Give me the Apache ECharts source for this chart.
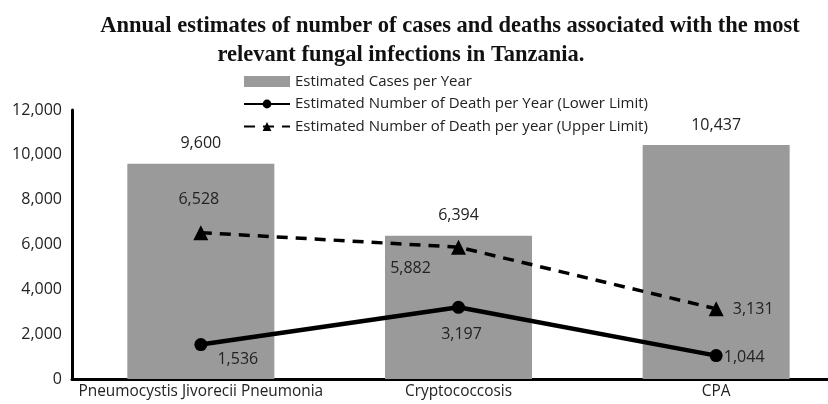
<!DOCTYPE html>
<html>
<head>
<meta charset="utf-8">
<script src="https://cdn.jsdelivr.net/npm/echarts@6/dist/echarts.min.js"></script>
<style>
    html, body { margin: 0; padding: 0; background: #fff; }
    #chart { width: 828px; height: 404px; }
</style>
</head>
<body>
<div id="chart"></div>
<script>
    var categories = ['Pneumocystis Jivorecii Pneumonia', 'Cryptococcosis', 'CPA'];
    var casesPerYear = [9600, 6394, 10437];
    var deathsLower = [1536, 3197, 1044];
    var deathsUpper = [6528, 5882, 3131];
    var yTicks = [0, 2000, 4000, 6000, 8000, 10000, 12000];

    var labelFont = '"Open Sans", sans-serif';
    var textColor = '#222';
    var titleStyle = {fontFamily: '"Liberation Serif", serif', fontWeight: 'bold', fontSize: 22.5, color: '#111'};

    // label offsets from each point (px), by series
    var lowerOffsets = [[37, 15], [3, 27], [28, 2]];
    var upperOffsets = [[-2, -33], [-48, 21], [37, 1]];

    function fmt(p) {
        return p.value.toLocaleString('en-US');
    }

    function offsetLayout(offs) {
        return function(p) {
            var o = offs[p.dataIndex];
            return {
                x: p.rect.x + p.rect.width / 2 + o[0],
                y: p.rect.y + p.rect.height / 2 + o[1],
                align: 'center',
                verticalAlign: 'middle'
            };
        };
    }

    var myChart = echarts.init(document.getElementById('chart'));

    var option = {
        animation: false,
        title: [
            {
                text: 'Annual estimates of number of cases and deaths associated with the most',
                left: 445,
                top: 10,
                textAlign: 'center',
                textStyle: titleStyle
            },
            {
                text: 'relevant fungal infections in Tanzania.',
                left: 396,
                top: 39,
                textAlign: 'center',
                textStyle: titleStyle
            }
        ],
        legend: {
            orient: 'vertical',
            left: 238,
            top: 69,
            itemWidth: 46,
            itemHeight: 11,
            itemGap: 7.5,
            textStyle: {fontFamily: labelFont, fontSize: 15, color: textColor},
            data: [
                {name: 'Estimated Cases per Year', icon: 'rect'},
                'Estimated Number of Death per Year (Lower Limit)',
                'Estimated Number of Death per year (Upper Limit)'
            ]
        },
        grid: {
            left: 72,
            width: 773,
            top: 110,
            bottom: 25,
            outerBoundsMode: 'none'
        },
        xAxis: {
            type: 'category',
            data: categories,
            axisLine: {lineStyle: {color: '#000', width: 3}},
            axisTick: {show: false},
            axisLabel: {interval: 0, fontFamily: labelFont, fontSize: 15.4, color: textColor, margin: 5}
        },
        yAxis: {
            type: 'value',
            min: yTicks[0],
            max: yTicks[yTicks.length - 1],
            interval: 2000,
            splitLine: {show: false},
            axisLine: {show: true, lineStyle: {color: '#000', width: 3}},
            axisTick: {show: false},
            axisLabel: {
                fontFamily: labelFont, fontSize: 16, color: textColor, margin: 10,
                formatter: function(v) { return v.toLocaleString('en-US'); }
            }
        },
        series: [
            {
                name: 'Estimated Cases per Year',
                type: 'bar',
                data: casesPerYear,
                barWidth: 147,
                itemStyle: {color: '#9a9a9a'},
                label: {
                    show: true,
                    position: 'top',
                    distance: 12,
                    fontFamily: labelFont, fontSize: 16, color: textColor,
                    formatter: fmt
                },
                z: 1
            },
            {
                name: 'Estimated Number of Death per Year (Lower Limit)',
                type: 'line',
                data: deathsLower,
                symbol: 'circle',
                symbolSize: 13,
                itemStyle: {color: '#000'},
                lineStyle: {color: '#000', width: 4.5},
                label: {show: true, fontFamily: labelFont, fontSize: 16, color: textColor, formatter: fmt},
                labelLayout: offsetLayout(lowerOffsets),
                z: 3
            },
            {
                name: 'Estimated Number of Death per year (Upper Limit)',
                type: 'line',
                data: deathsUpper,
                symbol: 'triangle',
                symbolSize: 15,
                itemStyle: {color: '#000'},
                lineStyle: {color: '#000', width: 3.5, type: [11, 8]},
                label: {show: true, fontFamily: labelFont, fontSize: 16, color: textColor, formatter: fmt},
                labelLayout: offsetLayout(upperOffsets),
                z: 3
            }
        ]
    };

    myChart.setOption(option);
</script>
</body>
</html>
